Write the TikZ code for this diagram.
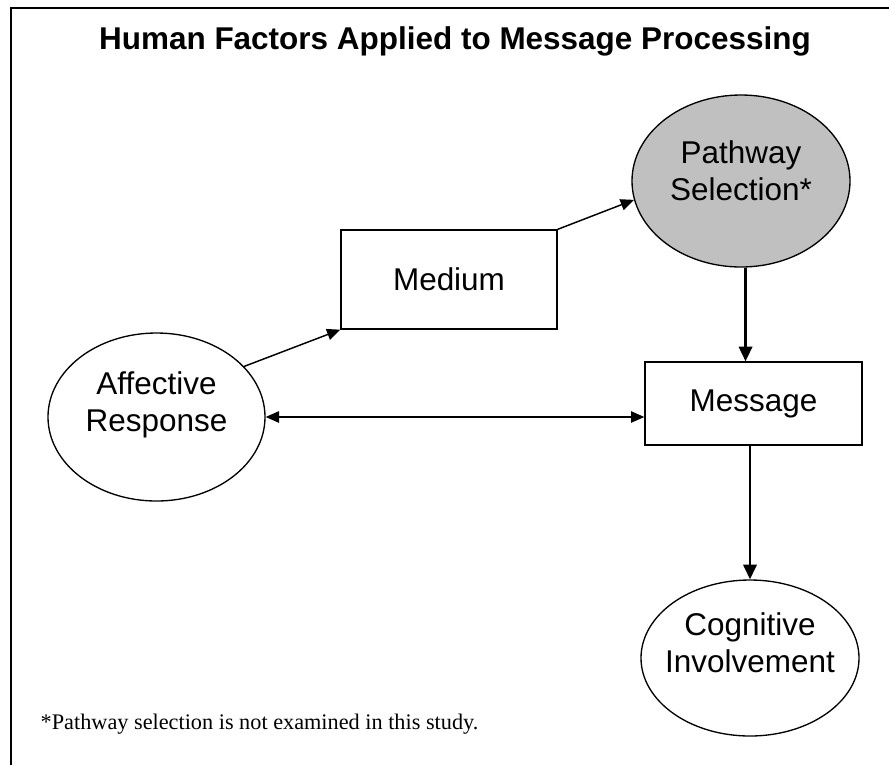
\documentclass[tikz,border=0pt]{standalone}
\usepackage{fontspec}
\setmainfont{Liberation Sans}
\newfontfamily\notefont{Liberation Serif}
\usetikzlibrary{arrows.meta, shapes.geometric}
\definecolor{pathgrey}{HTML}{C0C0C0}

\begin{document}
\begin{tikzpicture}[x=0.75pt, y=-0.75pt,
    box/.style={draw=black!100, line width=1pt, rectangle, inner sep=0pt,
        font={\fontsize{23.6}{27.75}\selectfont}},
    oval/.style={draw=black!100, line width=1pt, ellipse, inner sep=0pt},
    ovaltext/.style={align=center, font={\fontsize{23.6}{27.75}\selectfont}},
    link/.style={line width=1.1pt, -{Triangle[length=10pt, width=8.5pt]}},
    both/.style={line width=1.1pt, {Triangle[length=10pt, width=8.5pt]}-{Triangle[length=10pt, width=8.5pt]}},
    drop/.style={line width=1.8pt, -{Triangle[length=11pt, width=10pt]}}]
    \useasboundingbox (0,0) rectangle (889,765);
    \draw[line width=1.7pt] (11,765) -- (11,8) -- (889,8);

    \node[anchor=base, font={\bfseries\fontsize{23.6}{27.75}\selectfont}] (title) at (455,49) {Human Factors Applied to Message Processing};

    \node[oval, fill=pathgrey, minimum width=163.5pt, minimum height=129pt,
        label={[ovaltext, yshift=8pt]center:Pathway\\Selection*}] (path) at (741,181) {};
    \node[box, minimum width=162pt, minimum height=74.25pt] (medium) at (449,279.5) {Medium};
    \node[box, minimum width=162.75pt, minimum height=62.25pt] (msg) at (753.5,403.5) {Message};
    \node[oval, minimum width=162.75pt, minimum height=126pt,
        label={[ovaltext, yshift=9pt]center:Affective\\Response}] (affect) at (156.5,417) {};
    \node[oval, minimum width=163.5pt, minimum height=117pt,
        label={[ovaltext, yshift=11.5pt]center:Cognitive\\Involvement}] (cog) at (750,658) {};

    \node[anchor=base west, font={\notefont\fontsize{16.7}{20}\selectfont}] (note) at (36,729) {*Pathway selection is not examined in this study.};

    \draw[link] (affect.30) -- (medium.south west);
    \draw[link] (medium.north east) -- (path.190);
    \draw[drop] (path.-87) -- (path.-87 |- msg.north);
    \draw[both] (affect.east) -- (affect.east -| msg.west);
    \draw[drop] (msg.south -| cog.north) -- (cog.north);
\end{tikzpicture}
\end{document}
